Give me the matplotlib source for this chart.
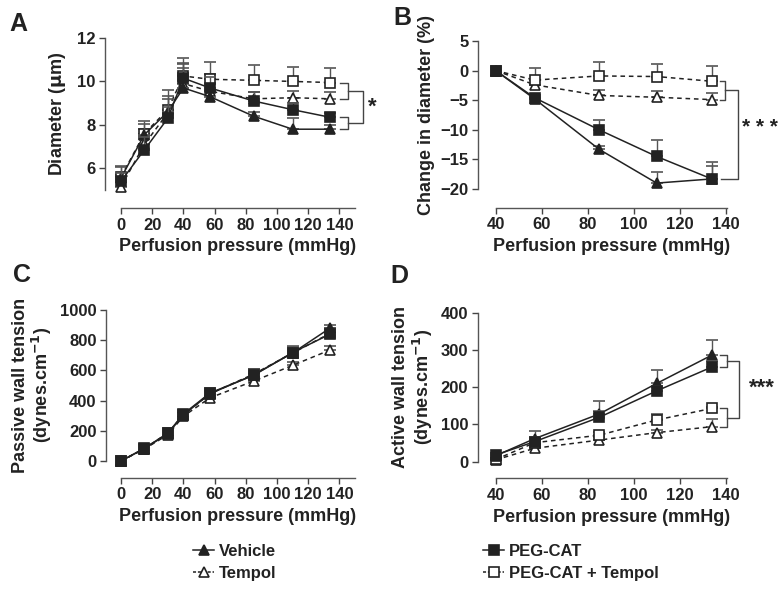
import numpy as np
import matplotlib
matplotlib.use("Agg")
from matplotlib import pyplot as plt
from matplotlib.lines import Line2D

plt.rcParams['font.family'] = ['Liberation Sans', 'DejaVu Sans']
plt.rcParams['font.weight'] = 'bold'
plt.rcParams['text.color'] = '#222222'
plt.rcParams['axes.labelcolor'] = '#222222'
plt.rcParams['xtick.color'] = '#444444'
plt.rcParams['ytick.color'] = '#444444'
plt.rcParams['xtick.labelcolor'] = '#222222'
plt.rcParams['ytick.labelcolor'] = '#222222'
plt.rcParams['mathtext.default'] = 'bf'

# pressures (mmHg)
press_all = [0, 15, 30, 40, 57, 85, 110, 134]
press_hi = [40, 57, 85, 110, 134]

# A: diameter (um)
diam_veh = [5.55, 7.55, 8.6, 9.7, 9.3, 8.4, 7.8, 7.8]
diam_veh_err = [0.5, 0.5, 0.6, 0.9, 0.3, 0.2, 0.5, 0.2]
diam_cat = [5.4, 6.85, 8.3, 10.15, 9.7, 9.1, 8.7, 8.35]
diam_cat_err = [0.4, 0.6, 0.5, 0.7, 0.5, 0.4, 0.3, 0.2]
diam_tem = [5.15, 7.1, 8.55, 9.9, 9.55, 9.2, 9.25, 9.2]
diam_tem_err = [0.6, 0.7, 0.8, 0.9, 0.8, 0.3, 0.3, 0.3]
diam_ct = [5.6, 7.6, 8.7, 10.25, 10.1, 10.05, 10.0, 9.95]
diam_ct_err = [0.5, 0.6, 0.9, 0.85, 0.8, 0.7, 0.65, 0.65]

# B: change in diameter (%)
chg_veh = [0, -4.8, -13.3, -19.0, -18.3]
chg_veh_err = [0, 0.4, 0.5, 1.9, 2.2]
chg_cat = [0, -4.6, -10.0, -14.5, -18.3]
chg_cat_err = [0, 0.4, 1.6, 2.7, 2.9]
chg_tem = [0, -2.4, -4.2, -4.5, -4.9]
chg_tem_err = [0, 0.8, 1.0, 1.0, 1.1]
chg_ct = [0, -1.6, -0.9, -1.0, -1.8]
chg_ct_err = [0, 2.0, 2.3, 2.1, 2.5]

# C: passive wall tension (dynes/cm)
pas_veh = [0, 82, 180, 305, 445, 570, 715, 880]
pas_veh_err = [5, 15, 20, 25, 30, 40, 35, 20]
pas_cat = [0, 84, 184, 311, 450, 567, 718, 840]
pas_cat_err = [5, 15, 20, 25, 30, 35, 45, 30]
pas_tem = [0, 80, 173, 296, 418, 529, 633, 735]
pas_tem_err = [5, 10, 15, 20, 20, 25, 25, 25]
pas_ct = [0, 82, 185, 305, 445, 575, 715, 845]
pas_ct_err = [5, 15, 20, 25, 30, 35, 40, 30]

# D: active wall tension (dynes/cm)
act_veh = [16, 62, 128, 210, 286]
act_veh_err = [8, 21, 35, 35, 40]
act_cat = [18, 54, 119, 190, 254]
act_cat_err = [6, 12, 17, 12, 16]
act_tem = [5, 36, 58, 78, 94]
act_tem_err = [4, 8, 8, 8, 20]
act_ct = [6, 51, 71, 112, 143]
act_ct_err = [4, 8, 10, 15, 5]

dark = '#222222'

styles = {
    'Vehicle': dict(marker='^', ls='-', mfc=dark, z=4),
    'Tempol': dict(marker='^', ls=(0, (3, 2.5)), mfc='white', z=2),
    'PEG-CAT': dict(marker='s', ls='-', mfc=dark, z=5),
    'PEG-CAT + Tempol': dict(marker='s', ls=(0, (3, 2.5)), mfc='white', z=3),
}


def series(ax, x, y, err, name):
    st = styles[name]
    ax.errorbar(x, y, yerr=[np.zeros(len(err)), err], color=dark, ls=st['ls'], lw=1.1,
                marker=st['marker'], ms=6.8, mfc=st['mfc'], mec=dark, mew=1.2,
                ecolor='#555555', elinewidth=1.0, capsize=4, capthick=1.0,
                zorder=st['z'], clip_on=False)


def style_axes(ax, xticks, yticks, xlim, ylim, lpad, bpad):
    ax.set_xlim(*xlim)
    ax.set_ylim(*ylim)
    ax.set_xticks(xticks)
    ax.set_yticks(yticks)
    for s in ['top', 'right']:
        ax.spines[s].set_visible(False)
    ax.spines['left'].set_position(('outward', lpad))
    ax.spines['bottom'].set_position(('outward', bpad))
    for s in ['left', 'bottom']:
        ax.spines[s].set_color('#555555')
        ax.spines[s].set_linewidth(1.0)
    ax.tick_params(direction='out', length=4, width=1.0, labelsize=12, pad=3)
    for lab in ax.get_xticklabels() + ax.get_yticklabels():
        lab.set_fontweight('bold')
    ax.set_xlabel('Perfusion pressure (mmHg)', fontsize=13, fontweight='bold', labelpad=4)
    ax.patch.set_alpha(0)


def bracket(ax, x0, x1, ytop, ybot):
    ax.plot([x0, x1, x1, x0], [ytop, ytop, ybot, ybot], color='#444444', lw=1.0,
            clip_on=False, zorder=1)


fig = plt.figure(figsize=(7.8, 5.91), dpi=100)

# ---- A
axA = fig.add_axes([0.1551, 0.6785, 0.300, 0.2572])
series(axA, press_all, diam_tem, diam_tem_err, 'Tempol')
series(axA, press_all, diam_ct, diam_ct_err, 'PEG-CAT + Tempol')
series(axA, press_all, diam_veh, diam_veh_err, 'Vehicle')
series(axA, press_all, diam_cat, diam_cat_err, 'PEG-CAT')
style_axes(axA, range(0, 141, 20), [6, 8, 10, 12], (0, 150), (5, 12), 11.5, 13)
axA.set_ylabel('Diameter ($\\mu$m)', fontsize=13, fontweight='bold', labelpad=6)
bracket(axA, 140.5, 145.5, diam_ct[-1], diam_tem[-1])
bracket(axA, 140.5, 145.5, diam_cat[-1], diam_veh[-1])
ym1 = (diam_ct[-1] + diam_tem[-1]) / 2
ym2 = (diam_cat[-1] + diam_veh[-1]) / 2
axA.plot([145.5, 155, 155, 145.5], [ym1, ym1, ym2, ym2], color='#444444', lw=1.0,
         clip_on=False)
axA.text(158.5, (ym1 + ym2) / 2, '*', fontsize=16, ha='left', va='center')

# ---- B
axB = fig.add_axes([0.6355, 0.6802, 0.2962, 0.2504])
series(axB, press_hi, chg_tem, chg_tem_err, 'Tempol')
series(axB, press_hi, chg_ct, chg_ct_err, 'PEG-CAT + Tempol')
series(axB, press_hi, chg_veh, chg_veh_err, 'Vehicle')
series(axB, press_hi, chg_cat, chg_cat_err, 'PEG-CAT')
style_axes(axB, range(40, 141, 20), [-20, -15, -10, -5, 0, 5], (40, 140.5), (-20, 5), 12.7, 13.5)
axB.set_ylabel('Change in diameter (%)', fontsize=13, fontweight='bold', labelpad=4)
bracket(axB, 137.5, 139.8, chg_ct[-1], chg_tem[-1])
ym1 = (chg_ct[-1] + chg_tem[-1]) / 2
axB.plot([139.8, 145.5, 145.5, 138], [ym1, ym1, chg_cat[-1], chg_cat[-1]], color='#444444',
         lw=1.0, clip_on=False)
axB.text(147, -9.6, '* * *', fontsize=15, ha='left', va='center')

# ---- C
axC = fig.add_axes([0.1551, 0.2200, 0.300, 0.2555])
series(axC, press_all, pas_tem, pas_tem_err, 'Tempol')
series(axC, press_all, pas_ct, pas_ct_err, 'PEG-CAT + Tempol')
series(axC, press_all, pas_veh, pas_veh_err, 'Vehicle')
series(axC, press_all, pas_cat, pas_cat_err, 'PEG-CAT')
style_axes(axC, range(0, 141, 20), range(0, 1001, 200), (0, 150), (0, 1000), 10.5, 12)
axC.set_ylabel('Passive wall tension\n(dynes.cm$^{-1}$)', fontsize=13, fontweight='bold',
               labelpad=4, linespacing=1.1)

# ---- D
axD = fig.add_axes([0.6355, 0.2188, 0.2962, 0.2521])
series(axD, press_hi, act_tem, act_tem_err, 'Tempol')
series(axD, press_hi, act_ct, act_ct_err, 'PEG-CAT + Tempol')
series(axD, press_hi, act_veh, act_veh_err, 'Vehicle')
series(axD, press_hi, act_cat, act_cat_err, 'PEG-CAT')
style_axes(axD, range(40, 141, 20), range(0, 401, 100), (40, 140.5), (0, 400), 12.7, 12)
axD.set_ylabel('Active wall tension\n(dynes.cm$^{-1}$)', fontsize=13, fontweight='bold',
               labelpad=4, linespacing=1.1)
bracket(axD, 137.5, 140.5, act_veh[-1], act_cat[-1])
bracket(axD, 137.5, 140.5, act_ct[-1], act_tem[-1])
ym1 = (act_veh[-1] + act_cat[-1]) / 2
ym2 = (act_ct[-1] + act_tem[-1]) / 2
axD.plot([140.5, 146, 146, 140.5], [ym1, ym1, ym2, ym2], color='#444444', lw=1.0,
         clip_on=False)
axD.text(150, 196, '***', fontsize=16, ha='left', va='center')

# panel letters
for lab, (px, py) in zip('ABCD', [(9, 31), (393, 25), (13, 282), (390, 283)]):
    fig.text(px / 780, 1 - py / 591, lab, fontsize=18, fontweight='bold', ha='left',
             va='baseline')


def handle(name):
    st = styles[name]
    ls = (0, (2, 1.2)) if st['ls'] != '-' else '-'
    return Line2D([], [], color=dark, ls=ls, lw=1.1, marker=st['marker'], ms=6.5,
                  mfc=st['mfc'], mec=dark, mew=1.2)


leg_kw = dict(frameon=False, fontsize=12, handlelength=1.3, handletextpad=0.3,
              labelspacing=0.45, loc='upper left', borderaxespad=0)
l1 = fig.legend([handle('Vehicle'), handle('Tempol')], ['Vehicle', 'Tempol'],
                bbox_to_anchor=(186 / 780, 1 - 537 / 591), **leg_kw)
l2 = fig.legend([handle('PEG-CAT'), handle('PEG-CAT + Tempol')],
                ['PEG-CAT', 'PEG-CAT + Tempol'],
                bbox_to_anchor=(476 / 780, 1 - 537 / 591), **leg_kw)
for leg in (l1, l2):
    for t in leg.get_texts():
        t.set_fontweight('bold')

fig.savefig('out.png', dpi=100)
